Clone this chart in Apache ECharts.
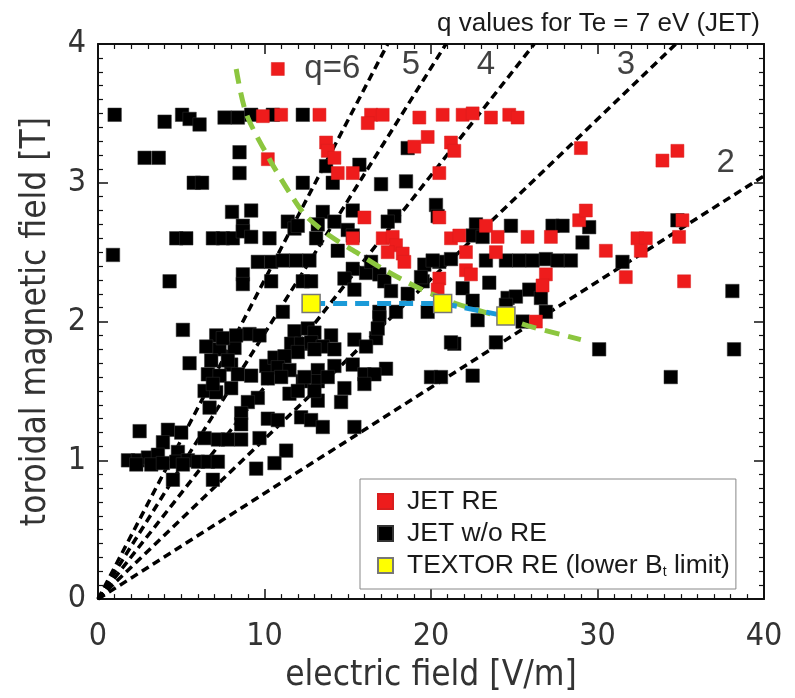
<!DOCTYPE html>
<html>
<head>
<meta charset="utf-8">
<script src="https://cdn.jsdelivr.net/npm/echarts@6/dist/echarts.min.js"></script>
<style>html,body{margin:0;padding:0;background:#fff}#c{width:795px;height:698px}</style>
</head>
<body>
<div id="c"></div>
<script>
// ---- data (E [V/m], Bt [T]) ----
const jetNoRE = [
 [1.0,3.49],[4.0,3.44],[5.05,3.49],[5.5,3.46],[6.1,3.42],[7.6,3.47],[8.4,3.47],[9.2,3.49],[10.5,3.49],[12.3,3.49],
 [2.8,3.18],[3.65,3.18],[8.5,3.22],[8.5,3.07],[18.6,3.25],
 [5.75,3.0],[6.25,3.0],[12.3,3.0],[14.1,3.0],[13.7,3.12],[15.7,3.13],[17.0,2.99],[18.5,3.01],[20.3,2.84],
 [8.05,2.79],[9.2,2.8],[8.7,2.69],[11.4,2.72],[11.8,2.67],[12.0,2.69],[13.5,2.79],[13.2,2.70],[14.2,2.72],[15.3,2.8],[15.0,2.66],[17.8,2.76],[17.4,2.72],[20.4,2.76],
 [4.7,2.6],[5.3,2.6],[6.9,2.6],[7.5,2.6],[8.1,2.6],[8.7,2.65],[9.2,2.61],[10.3,2.6],[13.1,2.6],[15.3,2.62],[14.4,2.51],
 [22.7,2.7],[24.8,2.69],[22.5,2.62],[23.1,2.61],[27.3,2.69],[27.9,2.69],[29.5,2.68],[29.1,2.57],[34.8,2.73],
 [0.9,2.48],[9.6,2.43],[10.4,2.43],[11.1,2.44],[11.9,2.44],[12.7,2.44],[15.3,2.38],[16.1,2.35],[16.4,2.43],[19.6,2.41],[20.5,2.43],[21.2,2.45],[20.1,2.44],
 [23.3,2.44],[24.5,2.44],[25.3,2.44],[26.1,2.44],[26.9,2.45],[27.6,2.44],[28.4,2.44],[31.5,2.43],
 [4.3,2.29],[8.7,2.34],[8.7,2.27],[10.4,2.29],[12.3,2.29],[12.8,2.29],[14.8,2.31],[15.4,2.23],[16.9,2.34],[17.2,2.29],[17.6,2.22],[18.6,2.2],[19.5,2.29],[19.4,2.32],
 [21.9,2.24],[23.5,2.28],[22.5,2.15],[24.6,2.17],[25.1,2.18],[25.9,2.23],[26.6,2.17],[24.5,2.12],[38.1,2.22],
 [11.1,2.07],[16.9,2.07],[17.9,2.07],[19.8,2.07],[16.9,2.03],[22.8,2.01],[26.9,2.07],[25.5,2.0],
 [5.1,1.94],[7.1,1.9],[9.1,1.91],[9.7,1.9],[11.8,1.93],[12.6,1.95],[13.0,1.92],[16.7,1.88],[16.8,1.95],[14.0,1.9],[21.4,1.84],[23.9,1.85],[30.1,1.8],[38.2,1.8],
 [6.5,1.82],[7.3,1.8],[8.2,1.81],[11.6,1.84],[12.2,1.84],[12.8,1.85],[13.5,1.82],[14.2,1.8],[15.4,1.87],[16.1,1.82],[21.2,1.85],[12.0,1.78],[13.0,1.8],
 [5.5,1.7],[8.0,1.69],[10.1,1.68],[10.6,1.74],[11.2,1.75],[10.8,1.67],[11.5,1.65],[13.2,1.65],[14.2,1.68],[15.3,1.69],[17.3,1.66],[7.8,1.72],[6.8,1.72],[7.5,1.88],[8.3,1.9],
 [6.6,1.62],[7.3,1.61],[8.4,1.62],[9.2,1.61],[10.2,1.59],[11.0,1.6],[12.3,1.57],[13.2,1.57],[16.0,1.62],[16.6,1.62],[16.0,1.55],[20.0,1.6],[20.6,1.6],[22.5,1.61],[34.4,1.6],[12.4,1.6],[13.8,1.6],
 [6.4,1.5],[7.1,1.49],[9.6,1.45],[11.5,1.48],[6.7,1.38],[9.0,1.42],[13.2,1.43],[14.6,1.42],[14.8,1.52],[12.0,1.5],[13.0,1.5],[6.9,1.55],[8.0,1.52],
 [8.6,1.34],[8.6,1.26],[10.2,1.3],[10.8,1.29],[12.2,1.31],[12.8,1.29],[13.5,1.24],[15.4,1.24],
 [2.5,1.21],[4.2,1.22],[5.0,1.2],[3.9,1.13],[6.4,1.16],[7.2,1.15],[7.8,1.15],[8.6,1.15],[9.7,1.16],[11.3,1.07],
 [1.8,1.0],[2.4,1.0],[3.0,1.02],[3.6,1.04],[2.3,0.97],[3.2,0.97],[3.9,0.98],[4.8,1.06],[4.7,0.99],[5.4,1.0],[6.0,0.99],[6.6,0.99],[7.2,0.99],[5.1,0.97],[10.6,0.98],[9.5,0.94],[4.5,0.86],[6.9,0.86]
];
const jetRE = [
 [10.8,3.82],
 [9.9,3.48],[11.0,3.49],[13.3,3.49],[16.4,3.49],[17.1,3.49],[16.2,3.43],[19.3,3.47],[20.7,3.49],[21.9,3.49],[22.5,3.5],[23.6,3.47],[24.7,3.49],[25.2,3.47],
 [10.2,3.17],[13.7,3.29],[13.8,3.23],[14.2,3.18],[14.4,3.07],[15.3,3.07],[19.0,3.26],[19.8,3.33],[21.2,3.29],[21.4,3.23],[20.5,3.07],[29.0,3.25],[33.9,3.16],[34.8,3.23],
 [16.0,2.75],[15.3,2.6],[17.1,2.6],[17.7,2.61],[17.9,2.55],[17.4,2.5],[18.3,2.49],[18.4,2.43],[20.5,2.75],[21.2,2.6],[21.7,2.62],[23.3,2.69],[24.0,2.61],[25.8,2.61],[27.2,2.61],
 [28.9,2.73],[29.3,2.8],[22.1,2.5],[23.9,2.5],[30.5,2.51],[32.4,2.6],[32.9,2.6],[32.6,2.51],[35.1,2.73],[34.9,2.61],
 [20.5,2.31],[20.4,2.23],[22.1,2.37],[22.4,2.34],[26.9,2.34],[26.7,2.26],[31.7,2.32],[35.2,2.29],[26.3,2.0]
];
const textorRE = [[12.8,2.13],[20.7,2.13],[24.5,2.04]];
const greenCurve = [[8.3,3.82],[8.9,3.5],[10.3,3.17],[11.5,2.93],[12.5,2.76],[13.9,2.62],[15.5,2.5],[17.1,2.38],[19.3,2.24],[21.5,2.13],[24.3,2.03],[25.8,1.97],[29.0,1.87]];
const qValues = ['q=6','5','4','3','2'];
const qLineEnds = [[17.4,4],[20.9,4],[26.2,4],[34.7,4],[40,3.05]];
const qLabelPos = [[14.07,3.82],[18.8,3.85],[23.3,3.85],[31.7,3.85],[37.7,3.14]];
const xTicks = [0,10,20,30,40];
const yTicks = [0,1,2,3,4];

const chart = echarts.init(document.getElementById('c'));
const axisFont = '"Liberation Sans Narrow", "DejaVu Sans Condensed", sans-serif';
const txtFont = '"Liberation Sans", Arial, sans-serif';

function xAx(pos, labels) {
  return {
    type: 'value', position: pos, min: xTicks[0], max: xTicks[xTicks.length-1], interval: 10,
    axisLine: {show: true, onZero: false, lineStyle: {color: '#111', width: 2}},
    axisTick: {show: true, inside: true, length: 10, lineStyle: {color: '#111', width: 1.5}},
    minorTick: {show: true, splitNumber: 10, length: 5, lineStyle: {color: '#111', width: 1.2}},
    splitLine: {show: false},
    axisLabel: {show: labels, fontSize: 32, color: '#333', fontFamily: axisFont, margin: 22},
    name: labels ? 'electric field [V/m]' : '', nameLocation: 'middle', nameGap: 58,
    nameTextStyle: {fontSize: 35, color: '#333', fontFamily: axisFont}
  };
}
function yAx(pos, labels) {
  return {
    type: 'value', position: pos, min: yTicks[0], max: yTicks[yTicks.length-1], interval: 1,
    axisLine: {show: true, onZero: false, lineStyle: {color: '#111', width: 2}},
    axisTick: {show: true, inside: true, length: 10, lineStyle: {color: '#111', width: 1.5}},
    minorTick: {show: true, splitNumber: 10, length: 5, lineStyle: {color: '#111', width: 1.2}},
    splitLine: {show: false},
    axisLabel: {show: labels, fontSize: 32, color: '#333', fontFamily: axisFont, margin: 12},
    name: labels ? 'toroidal magnetic field [T]' : '', nameLocation: 'middle', nameGap: 45,
    nameTextStyle: {fontSize: 35, color: '#333', fontFamily: axisFont}
  };
}

const qLineSeries = qLineEnds.map((end, i) => ({
  type: 'line', name: 'q' + qValues[i], xAxisIndex: 0, yAxisIndex: 0,
  data: [[0,0], end], showSymbol: false, symbol: 'none', silent: true,
  lineStyle: {color: '#000', width: 3.5, type: [8,5]}, z: 2
}));

chart.setOption({
  animation: false,
  backgroundColor: '#fff',
  title: {text: 'q values for Te = 7 eV (JET)', right: 30, top: 6,
    textStyle: {fontSize: 26, fontWeight: 'normal', color: '#1a1a1a', fontFamily: txtFont}},
  grid: {left: 98, right: 31, top: 44, bottom: 91},
  xAxis: [xAx('bottom', true), xAx('top', false)],
  yAxis: [yAx('left', true), yAx('right', false)],
  legend: {
    orient: 'vertical', left: 360, top: 479,
    data: ['JET RE', 'JET w/o RE', 'TEXTOR RE (lower B_t limit)'],
    itemWidth: 15, itemHeight: 15, itemGap: 5, icon: 'rect',
    borderColor: '#888', borderWidth: 1, padding: [9, 6, 10, 17],
    textStyle: {fontSize: 26.5, color: '#1a1a1a', fontFamily: txtFont, padding: [0,0,0,9],
      rich: {
        a: {fontSize: 26.5, color: '#1a1a1a', fontFamily: txtFont},
        s: {fontSize: 14, color: '#1a1a1a', fontFamily: txtFont, verticalAlign: 'bottom', padding: [11,0,0,0]}
      }},
    formatter: function (n) {
      if (n.indexOf('B_t') >= 0) return '{a|TEXTOR RE (lower B}{s|t}{a| limit)}';
      return n;
    }
  },
  series: [
    ...qLineSeries,
    {type: 'scatter', name: 'JET w/o RE', data: jetNoRE, symbol: 'rect', symbolSize: 13.5,
     itemStyle: {color: '#000', borderColor: '#333', borderWidth: 0.5, opacity: 1}, z: 3},
    {type: 'scatter', name: 'JET RE', data: jetRE, symbol: 'rect', symbolSize: 13,
     itemStyle: {color: '#ee1c1c', borderColor: '#d81e1e', borderWidth: 0.5, opacity: 1}, z: 4},
    {type: 'line', name: 'green', data: greenCurve, smooth: 0.3, showSymbol: false, symbol: 'none',
     lineStyle: {color: '#8cc63f', width: 5, type: [15,9]}, z: 5},
    {type: 'line', name: 'blue', data: textorRE, showSymbol: false, symbol: 'none',
     lineStyle: {color: '#1b9ad8', width: 5, type: [14,8]}, z: 5},
    {type: 'scatter', name: 'TEXTOR RE (lower B_t limit)', data: textorRE, symbol: 'rect', symbolSize: 18,
     itemStyle: {color: '#ffff00', borderColor: '#777', borderWidth: 1.5, opacity: 1}, z: 6},
    {type: 'scatter', name: 'qlabels', silent: true, symbolSize: 0,
     data: qLabelPos.map((p, i) => ({value: p, label: {formatter: qValues[i]}})),
     label: {show: true, position: 'inside', fontSize: 33, color: '#111', fontFamily: txtFont}, z: 7}
  ]
});
</script>
</body>
</html>
